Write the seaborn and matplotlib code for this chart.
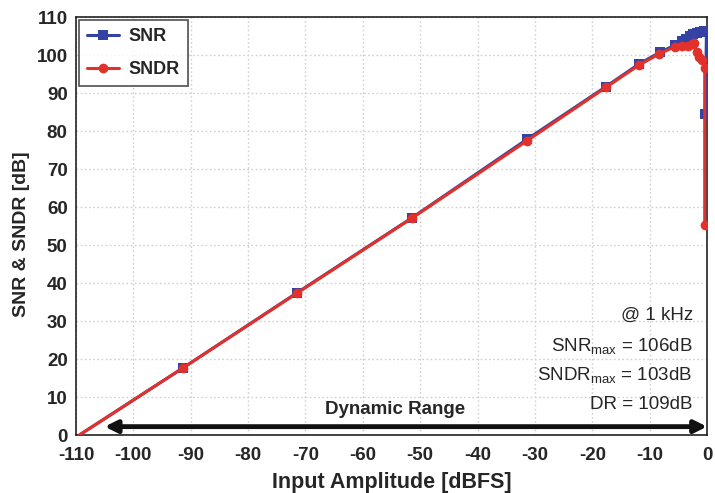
import matplotlib
matplotlib.use("Agg")
import matplotlib.pyplot as plt
import seaborn as sns
import pandas as pd

# ---- data ----
snr_x = [-109.4, -91.4, -71.4, -51.4, -31.4, -17.6, -11.8, -8.2, -5.6, -4.4,
         -3.6, -3.0, -2.4, -1.8, -1.2, -0.6, -0.1, -0.3]
snr_y = [0.0, 17.6, 37.5, 57.2, 77.8, 91.7, 97.7, 100.7, 102.6, 103.6,
         104.3, 105.0, 105.4, 105.8, 106.0, 106.3, 106.0, 84.4]
sndr_x = [-109.4, -91.4, -71.4, -51.4, -31.4, -17.6, -11.8, -8.3, -5.6, -4.4,
          -3.3, -2.6, -2.3, -1.8, -1.4, -0.8, -0.4, -0.4]
sndr_y = [0.0, 17.6, 37.4, 57.1, 77.4, 91.5, 97.4, 100.3, 102.2, 102.4,
          102.5, 102.8, 103.2, 100.9, 99.5, 98.7, 96.7, 55.3]

x_ticks = list(range(-110, 1, 10))
y_ticks = list(range(0, 111, 10))
annot_lines = ["@ 1 kHz",
               r"SNR$_{\mathrm{max}}$ = 106dB",
               r"SNDR$_{\mathrm{max}}$ = 103dB",
               "DR = 109dB"]

sns.set_style("white")
plt.rcParams["font.family"] = ["Liberation Sans", "DejaVu Sans"]
plt.rcParams["mathtext.fontset"] = "custom"
plt.rcParams["mathtext.rm"] = "Liberation Sans"
plt.rcParams["mathtext.it"] = "Liberation Sans"

blue = "#3443a3"
red = "#e2302a"

df_snr = pd.DataFrame({"x": snr_x, "y": snr_y})
df_sndr = pd.DataFrame({"x": sndr_x, "y": sndr_y})

fig = plt.figure(figsize=(7.15, 4.93), dpi=100)
ax = fig.add_axes([76 / 715, 1 - 435 / 493, (707 - 76) / 715, (435 - 17) / 493])

sns.lineplot(data=df_snr, x="x", y="y", sort=False, estimator=None, ax=ax,
             color=blue, lw=2.2, marker="s", markersize=6.5, markeredgewidth=0,
             markevery=list(range(1, len(snr_x))), label="SNR", zorder=3)
sns.lineplot(data=df_sndr, x="x", y="y", sort=False, estimator=None, ax=ax,
             color=red, lw=2.2, marker="o", markersize=7, markeredgewidth=0,
             markevery=list(range(1, len(sndr_x))), label="SNDR", zorder=4)

ax.set_xlim(-110, 0)
ax.set_ylim(0, 110)
ax.set_xticks(x_ticks)
ax.set_yticks(y_ticks)
ax.set_xticklabels([str(t) for t in x_ticks], fontsize=13.5, fontweight="bold")
ax.set_yticklabels([str(t) for t in y_ticks], fontsize=13.5, fontweight="bold")
ax.tick_params(axis="x", length=0, pad=9)
ax.tick_params(axis="y", length=0, pad=6)
ax.grid(True, color="#d0d0d0", linestyle=(0, (1.2, 1.8)), linewidth=1.0)
for s in ax.spines.values():
    s.set_visible(True)
    s.set_color("#222222")
    s.set_linewidth(1.2)

ax.set_xlabel("Input Amplitude [dBFS]", fontsize=15.5, fontweight="bold")
ax.set_ylabel("SNR & SNDR [dB]", fontsize=14, fontweight="bold")
ax.xaxis.set_label_coords(0.5, -0.088)
ax.yaxis.set_label_coords(-0.073, 0.48)

leg = ax.legend(loc="upper left", prop={"weight": "bold", "size": 13},
                frameon=True, fancybox=False, borderaxespad=0.15,
                handlelength=1.8, handletextpad=0.5, labelspacing=0.9,
                borderpad=0.45)
leg.get_frame().set_edgecolor("#222222")
leg.get_frame().set_linewidth(1.2)

# Dynamic range arrow
ax.annotate("", xy=(0, 2.2), xytext=(-105, 2.2),
            arrowprops=dict(arrowstyle="<|-|>", color="#111111", lw=3.5,
                            mutation_scale=18, shrinkA=0, shrinkB=0))
ax.text(-54.3, 6.6, "Dynamic Range", ha="center", va="center",
        fontsize=13.5, fontweight="bold")

ys = [31.5, 23.5, 15.7, 7.9]
for t, yv in zip(annot_lines, ys):
    ax.text(-2.5, yv, t, ha="right", va="center", fontsize=13.5)

fig.savefig("out.png", dpi=100)
